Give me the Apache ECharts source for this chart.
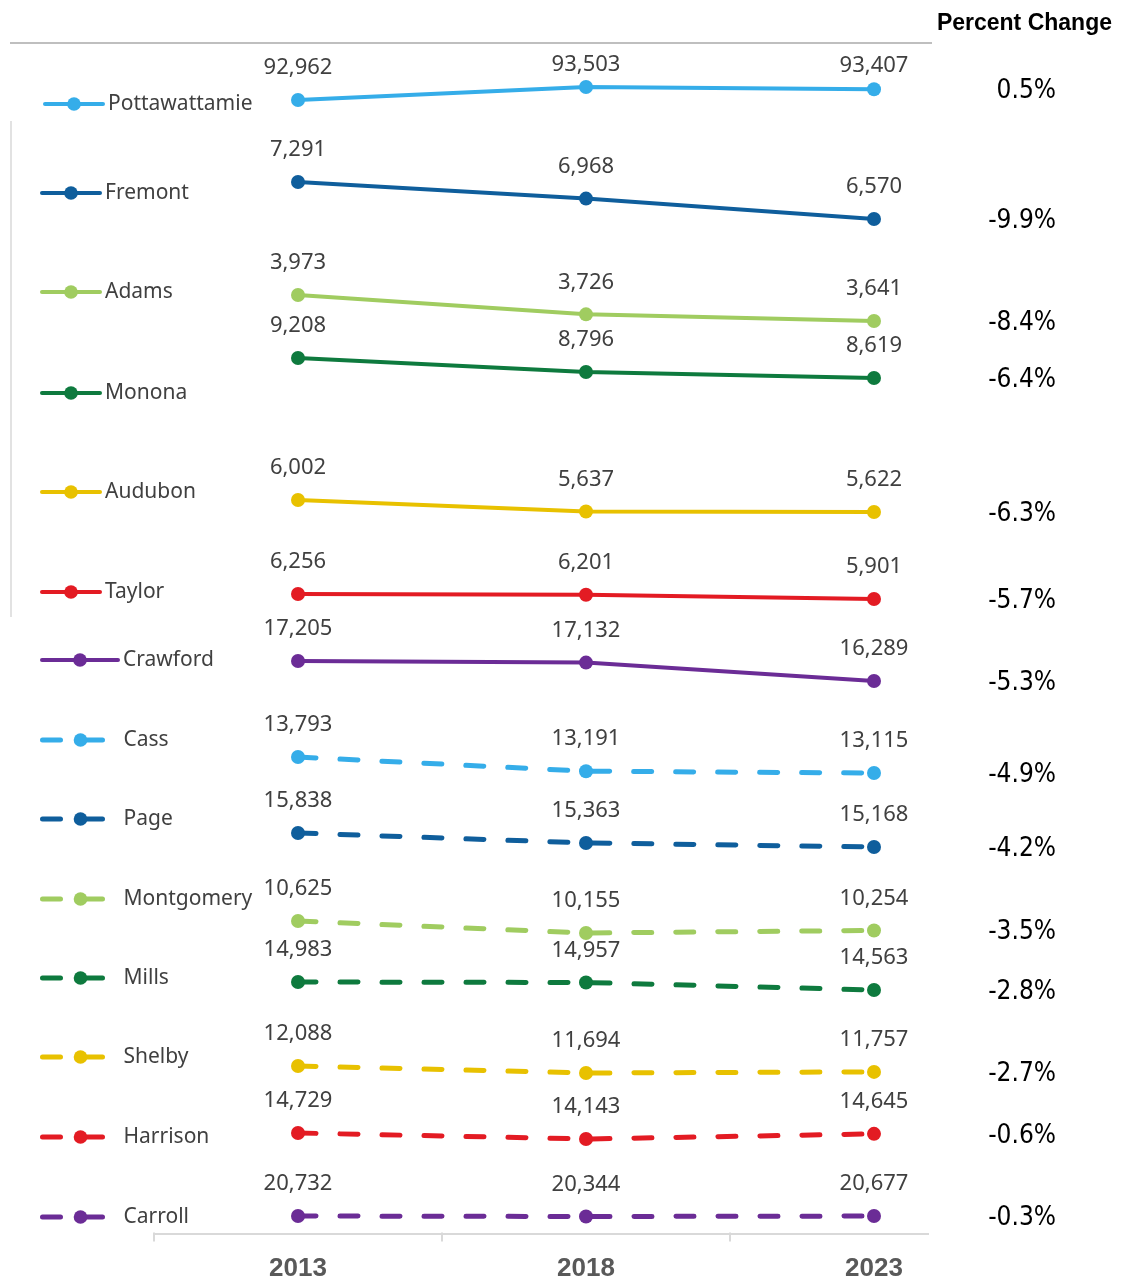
<!DOCTYPE html>
<html>
<head>
<meta charset="utf-8">
<script src="https://cdn.jsdelivr.net/npm/echarts@6/dist/echarts.min.js"></script>
<style>
  html, body { margin: 0; padding: 0; background: #fff; }
  #chart { width: 1134px; height: 1281px; }
</style>
</head>
<body>
<div id="chart"></div>
<script>
// data
var years = ['2013', '2018', '2023'];
var counties = ['Pottawattamie', 'Fremont', 'Adams', 'Monona', 'Audubon', 'Taylor', 'Crawford',
                'Cass', 'Page', 'Montgomery', 'Mills', 'Shelby', 'Harrison', 'Carroll'];
var pottawattamie = [92962, 93503, 93407];
var fremont       = [7291, 6968, 6570];
var adams         = [3973, 3726, 3641];
var monona        = [9208, 8796, 8619];
var audubon       = [6002, 5637, 5622];
var taylor        = [6256, 6201, 5901];
var crawford      = [17205, 17132, 16289];
var cass          = [13793, 13191, 13115];
var page          = [15838, 15363, 15168];
var montgomery    = [10625, 10155, 10254];
var mills         = [14983, 14957, 14563];
var shelby        = [12088, 11694, 11757];
var harrison      = [14729, 14143, 14645];
var carroll       = [20732, 20344, 20677];
var pctChange = ['0.5%', '-9.9%', '-8.4%', '-6.4%', '-6.3%', '-5.7%', '-5.3%',
                 '-4.9%', '-4.2%', '-3.5%', '-2.8%', '-2.7%', '-0.6%', '-0.3%'];

var values = [pottawattamie, fremont, adams, monona, audubon, taylor, crawford,
              cass, page, montgomery, mills, shelby, harrison, carroll];

// styling / layout
var colors = ['#35ade9', '#0f5e9c', '#a0cc60', '#0e7a3e', '#e8c100', '#e31b23', '#6b2c96',
              '#35ade9', '#0f5e9c', '#a0cc60', '#0e7a3e', '#e8c100', '#e31b23', '#6b2c96'];
// pixel band of each small panel (top = highest value, bottom = lowest value)
var bandTop = [87, 182, 295, 358, 500, 594, 661, 757, 833, 921, 982, 1066, 1133, 1216];
var bandBot = [100, 219, 321, 378, 512, 599, 681, 773, 847, 933, 990, 1073, 1139, 1218];
var legendY = [102, 191, 290, 391, 490, 590, 658, 738, 817, 897, 976, 1055, 1135, 1215];
// top row labels sit closer to the line near the top border
var topRowLabelDist = [14, 4, 6];

var myChart = echarts.init(document.getElementById('chart'));

var grids = [], xAxes = [], yAxes = [], series = [], legends = [];
for (var i = 0; i < counties.length; i++) {
    var dashed = i >= 7;
    var last = i === counties.length - 1;
    var seriesData = values[i];
    if (i === 0) {
        seriesData = values[i].map(function (v, k) {
            return { value: v, label: { distance: topRowLabelDist[k] } };
        });
    }
    grids.push({
        left: 154,
        right: 116,
        top: bandTop[i],
        height: bandBot[i] - bandTop[i]
    });
    xAxes.push({
        gridIndex: i,
        type: 'category',
        data: years,
        boundaryGap: true,
        show: last,
        offset: last ? 16 : 0,
        axisLine: { show: false },
        axisTick: { show: true, length: 9, lineStyle: { color: '#d9d9d9', width: 2 } },
        axisLabel: {
            margin: 23,
            color: '#595959',
            fontSize: 26,
            fontWeight: 'bold',
            fontFamily: 'Liberation Sans, Arial, sans-serif'
        }
    });
    yAxes.push({
        gridIndex: i,
        type: 'value',
        show: false,
        min: Math.min.apply(null, values[i]),
        max: Math.max.apply(null, values[i])
    });
    series.push({
        name: counties[i],
        type: 'line',
        xAxisIndex: i,
        yAxisIndex: i,
        data: seriesData,
        clip: false,
        symbol: 'circle',
        symbolSize: 14,
        color: colors[i],
        lineStyle: {
            width: dashed ? 5 : 4,
            color: colors[i],
            type: dashed ? [18, 24] : 'solid',
            cap: 'round'
        },
        itemStyle: { color: colors[i] },
        label: {
            show: true,
            position: 'top',
            distance: 14,
            color: '#404040',
            fontSize: 22,
            fontFamily: 'Noto Sans, sans-serif',
            formatter: function (p) { return p.value.toLocaleString('en-US'); }
        },
        endLabel: {
            show: true,
            distance: 182,
            align: 'right',
            offset: [0, 2],
            color: '#000',
            fontSize: 26,
            fontFamily: '"Liberation Sans Narrow", "Arial Narrow", "DejaVu Sans Condensed", sans-serif',
            formatter: pctChange[i]
        }
    });
    legends.push({
        data: [counties[i]],
        left: i === 0 ? 43 : 40,
        top: legendY[i] - 11,
        padding: 0,
        itemWidth: i < 6 ? 58 : 76,
        itemHeight: 17,
        lineStyle: { width: dashed ? 5 : 4 },
        textStyle: {
            color: '#404040',
            fontSize: 21,
            lineHeight: 26,
            fontFamily: 'Noto Sans, sans-serif'
        }
    });
}

var option = {
    animation: false,
    backgroundColor: '#fff',
    title: {
        text: 'Percent Change',
        right: 17,
        top: 7,
        textStyle: {
            color: '#000',
            fontSize: 23,
            fontWeight: 'bold',
            fontFamily: 'Liberation Sans, Arial, sans-serif'
        }
    },
    legend: legends,
    grid: grids,
    xAxis: xAxes,
    yAxis: yAxes,
    series: series,
    graphic: [
        { type: 'line', z: 100, shape: { x1: 10, y1: 43, x2: 932, y2: 43 }, style: { stroke: '#bfbfbf', lineWidth: 2 } },
        { type: 'line', z: 0, shape: { x1: 11, y1: 121, x2: 11, y2: 617 }, style: { stroke: '#d9d9d9', lineWidth: 1.5 } },
        { type: 'rect', z: 100, shape: { x: 931, y: 1231, width: 100, height: 20 }, style: { fill: '#fff' } },
        { type: 'line', z: 100, shape: { x1: 153, y1: 1234, x2: 929, y2: 1234 }, style: { stroke: '#d9d9d9', lineWidth: 2 } }
    ]
};

myChart.setOption(option);
</script>
</body>
</html>
